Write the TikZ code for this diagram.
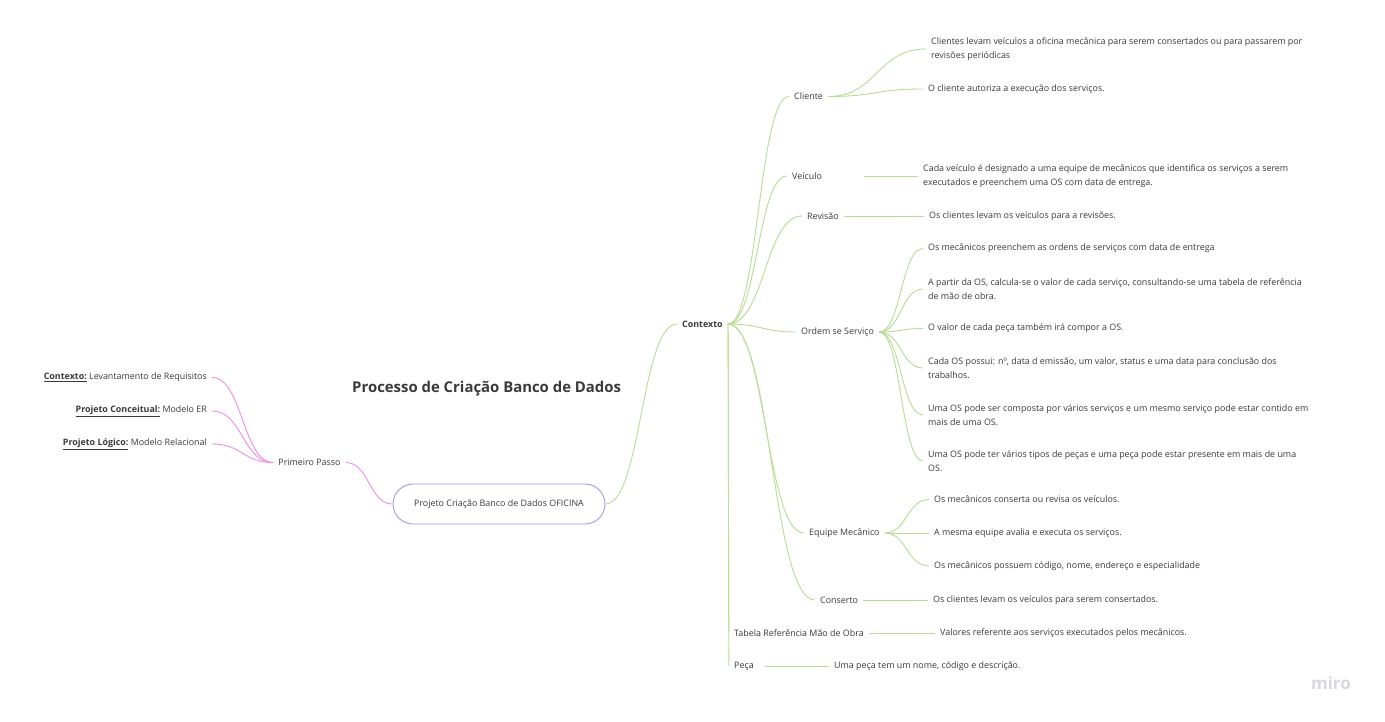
\documentclass[tikz,border=0pt]{standalone}
\usepackage{fontspec}
\setmainfont{Open Sans}
\usetikzlibrary{calc}
\definecolor{lgreen}{HTML}{B7DC92}
\definecolor{lpink}{HTML}{F28BE6}
\definecolor{lav}{HTML}{A596E4}
\definecolor{txt}{HTML}{3A3A3A}
\definecolor{mirog}{HTML}{D6D6DE}
\begin{document}
\begin{tikzpicture}[x=1pt,y=-1pt,
  lbl/.style={font=\fontsize{8.9}{13.5}\selectfont, text=txt, inner xsep=5pt, inner ysep=2pt, align=left, yshift=-1.5pt},
  leaf/.style={lbl, anchor=west},
  gl/.style={draw=lgreen, line width=0.9pt},
  pl/.style={draw=lpink, line width=0.9pt},
  hc/.style={to path={let \p1=(\tikztostart), \p2=(\tikztotarget) in .. controls ({(\x1+\x2)/2},\y1) and ({(\x1+\x2)/2},\y2) .. (\tikztotarget)}}
]
\useasboundingbox (0,0) rectangle (1385,721);

% title
\node[anchor=west, font=\bfseries\fontsize{14.9}{18}\selectfont, text=txt, inner sep=0pt] (title) at (352,389) {Processo de Criação Banco de Dados};

% root
\node[lbl, align=center, draw=lav, line width=0.9pt, rounded corners=20pt, minimum width=212pt, minimum height=40pt, yshift=1.5pt] (root) at (499,504) {Projeto Criação Banco de Dados OFICINA};

% left branch
\node[lbl] (pp) at (309.5,461) {Primeiro Passo};
\node[lbl, anchor=east] (l1) at (212,376) {\textbf{\underline{Contexto:}} Levantamento de Requisitos};
\node[lbl, anchor=east] (l2) at (212,409.5) {\textbf{\underline{Projeto Conceitual:}} Modelo ER};
\node[lbl, anchor=east] (l3) at (212,442.5) {\textbf{\underline{Projeto Lógico:}} Modelo Relacional};

% context
\node[lbl, font=\bfseries\fontsize{8.9}{13.5}\selectfont, anchor=west] (ctx) at (677,322.5) {Contexto};

% children
\node[leaf] (cli) at (789,95) {Cliente};
\node[leaf, text width=67pt] (vei) at (787,174.5) {Veículo};
\node[leaf] (rev) at (802,214.5) {Revisão};
\node[leaf] (ord) at (796,330.5) {Ordem se Serviço};
\node[leaf] (equ) at (804,531.5) {Equipe Mecânico};
\node[leaf] (con) at (815,598.5) {Conserto};
\node[leaf] (tab) at (729,631.5) {Tabela Referência Mão de Obra};
\node[leaf, text width=26pt] (pec) at (729,664.5) {Peça};

% leaves
\node[leaf] (cl1) at (926,47.5) {Clientes levam veículos a oficina mecânica para serem consertados ou para passarem por\\revisões periódicas};
\node[leaf] (cl2) at (923,87.5) {O cliente autoriza a execução dos serviços.};
\node[leaf] (ve1) at (918,174.5) {Cada veículo é designado a uma equipe de mecânicos que identifica os serviços a serem\\executados e preenchem uma OS com data de entrega.};
\node[leaf] (re1) at (924,214.5) {Os clientes levam os veículos para a revisões.};
\node[leaf] (os1) at (923,247) {Os mecânicos preenchem as ordens de serviços com data de entrega};
\node[leaf] (os2) at (923,287.5) {A partir da OS, calcula-se o valor de cada serviço, consultando-se uma tabela de referência\\de mão de obra.};
\node[leaf] (os3) at (923,327) {O valor de cada peça também irá compor a OS.};
\node[leaf] (os4) at (923,366.5) {Cada OS possui: nº, data d emissão, um valor, status e uma data para conclusão dos\\trabalhos.};
\node[leaf] (os5) at (923,413.5) {Uma OS pode ser composta por vários serviços e um mesmo serviço pode estar contido em\\mais de uma OS.};
\node[leaf] (os6) at (923,459.5) {Uma OS pode ter vários tipos de peças e uma peça pode estar presente em mais de uma\\OS.};
\node[leaf] (eq1) at (929,498) {Os mecânicos conserta ou revisa os veículos.};
\node[leaf] (eq2) at (929,531.5) {A mesma equipe avalia e executa os serviços.};
\node[leaf] (eq3) at (929,564.5) {Os mecânicos possuem código, nome, endereço e especialidade};
\node[leaf] (co1) at (928,598.5) {Os clientes levam os veículos para serem consertados.};
\node[leaf] (tb1) at (935,631.5) {Valores referente aos serviços executados pelos mecânicos.};
\node[leaf] (pe1) at (829,664.5) {Uma peça tem um nome, código e descrição.};

% watermark
\node[font=\bfseries\fontsize{17}{20}\selectfont, text=mirog] (miro) at (1331,683) {miro};

% connectors: pink
\draw[pl] (pp.east) to[hc] (root.west);
\draw[pl] (pp.west) to[hc] (l1.east);
\draw[pl] (pp.west) to[hc] (l2.east);
\draw[pl] (pp.west) to[hc] (l3.east);

% connectors: green
\draw[gl] (root.east) to[hc] (ctx.west);
\foreach \c in {cli,vei,rev,ord,equ,con,tab,pec}
  \draw[gl] (ctx.east) to[hc] (\c.west);
\draw[gl] (cli.east) to[hc] (cl1.west);
\draw[gl] (cli.east) to[hc] (cl2.west);
\draw[gl] (vei.east) to[hc] (ve1.west);
\draw[gl] (rev.east) to[hc] (re1.west);
\foreach \c in {os1,os2,os3,os4,os5,os6}
  \draw[gl] (ord.east) to[hc] (\c.west);
\foreach \c in {eq1,eq2,eq3}
  \draw[gl] (equ.east) to[hc] (\c.west);
\draw[gl] (con.east) to[hc] (co1.west);
\draw[gl] (tab.east) to[hc] (tb1.west);
\draw[gl] (pec.east) to[hc] (pe1.west);
\end{tikzpicture}
\end{document}
